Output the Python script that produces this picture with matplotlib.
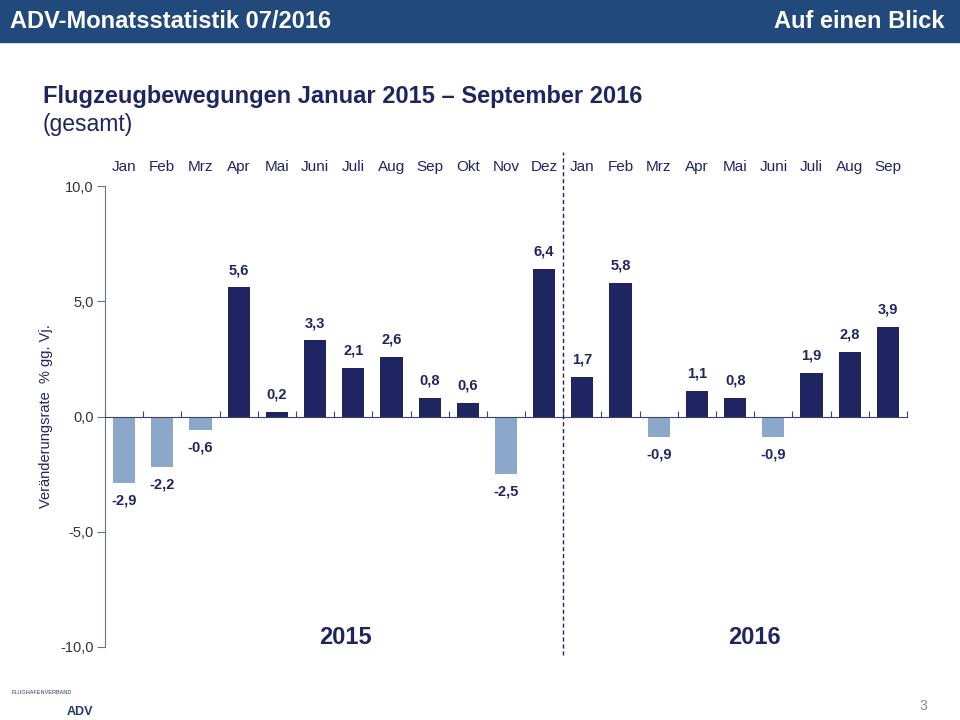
import matplotlib
matplotlib.use("Agg")
import matplotlib.pyplot as plt
import numpy as np
from matplotlib.patches import Rectangle

months = ["Jan", "Feb", "Mrz", "Apr", "Mai", "Juni", "Juli", "Aug", "Sep", "Okt", "Nov", "Dez",
          "Jan", "Feb", "Mrz", "Apr", "Mai", "Juni", "Juli", "Aug", "Sep"]
values = [-2.9, -2.2, -0.6, 5.6, 0.2, 3.3, 2.1, 2.6, 0.8, 0.6, -2.5, 6.4,
          1.7, 5.8, -0.9, 1.1, 0.8, -0.9, 1.9, 2.8, 3.9]
years = ["2015", "2016"]
yticks = [-10, -5, 0, 5, 10]

plt.rcParams['font.family'] = ['Liberation Sans', 'DejaVu Sans']
navy = "#1F2560"
light = "#8BA8CB"
header = "#21497C"

fig = plt.figure(figsize=(9.6, 7.2), dpi=100)
fig.patches.append(Rectangle((0, 1 - 42/720), 1, 42/720, transform=fig.transFigure,
                             color=header, zorder=0))
fig.text(10/960, 1 - 22/720, "ADV-Monatsstatistik 07/2016", color="white", fontsize=17,
         fontweight="bold", va="center", ha="left")
fig.text(945/960, 1 - 22/720, "Auf einen Blick", color="white", fontsize=17,
         fontweight="bold", va="center", ha="right")
fig.text(43/960, 1 - 96/720, "Flugzeugbewegungen Januar 2015 \u2013 September 2016", color=navy,
         fontsize=17, fontweight="bold", va="center", ha="left")
fig.text(43/960, 1 - 125/720, "(gesamt)", color=navy, fontsize=16.5, va="center", ha="left")

ax = fig.add_axes([105/960, 1 - 647/720, 802/960, 461/720])
x = np.arange(len(values))
colors = [navy if v >= 0 else light for v in values]
ax.bar(x, values, width=0.58, color=colors, zorder=2)
ax.set_xlim(-0.5, len(values) - 0.5)
ax.set_ylim(-10, 10)

for xi, v in zip(x, values):
    lab = f"{v:.1f}".replace(".", ",")
    if v >= 0:
        ax.text(xi, v + 0.45, lab, ha="center", va="bottom", fontsize=10.5,
                fontweight="bold", color=navy)
    else:
        ax.text(xi, v - 0.45, lab, ha="center", va="top", fontsize=10.5,
                fontweight="bold", color=navy)

for xi, m in zip(x, months):
    ax.text(xi, 1.041, m, transform=ax.get_xaxis_transform(), ha="center", va="center",
            fontsize=11, color=navy)

ax.axvline(11.5, ymin=-0.017, ymax=1.074, color=navy, linestyle=(0, (3, 2)), linewidth=1,
           clip_on=False)

ax.text(5.8, -9.6, years[0], ha="center", va="center", fontsize=17, fontweight="bold", color=navy)
ax.text(16.5, -9.6, years[1], ha="center", va="center", fontsize=17, fontweight="bold", color=navy)

for s in ["top", "right"]:
    ax.spines[s].set_visible(False)
ax.spines["bottom"].set_position(("data", 0))
ax.spines["bottom"].set_color("#3A4270")
ax.spines["left"].set_color("#6A7090")
ax.set_xticks(np.arange(-0.5, len(values), 1.0))
ax.set_xticklabels([])
ax.tick_params(axis="x", direction="in", length=4, color="#3A4270")
ax.set_yticks(yticks)
ax.set_yticklabels([f"{t:.1f}".replace(".", ",") for t in yticks])
ax.tick_params(axis="y", direction="out", length=6, pad=2, color="#6A7090", labelsize=10.5,
               labelcolor="#333333")
ax.set_ylabel("Ver\u00e4nderungsrate  % gg. Vj.", color=navy, fontsize=10.5, labelpad=5)

fig.text(12/960, 1 - 693/720, "FLUGHAFENVERBAND", fontsize=4, color="#1F3A6A", va="center")
fig.text(80/960, 1 - 712/720, "ADV", fontsize=9, fontweight="bold", color="#1F3A6A", va="center",
         ha="center")
fig.text(923/960, 1 - 706/720, "3", fontsize=10, color="#888888", ha="center", va="center")

fig.savefig("out.png", dpi=100)
